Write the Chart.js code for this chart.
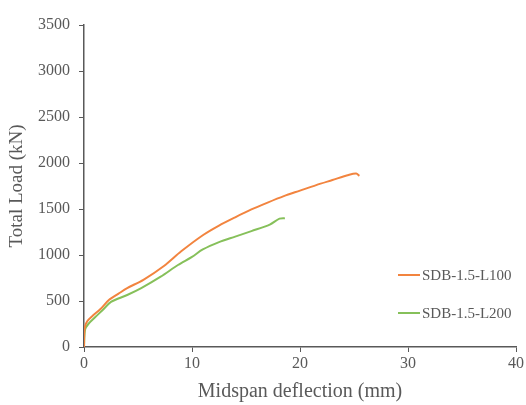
<!DOCTYPE html>
<html>
<head>
<meta charset="utf-8">
<script src="https://cdn.jsdelivr.net/npm/chart.js@4.4.1/dist/chart.umd.min.js"></script>
<style>
  html, body { margin: 0; padding: 0; background: #fff; }
  #wrap { width: 526px; height: 405px; }
</style>
</head>
<body>
<div id="wrap"><canvas id="loadChart" width="526" height="405"></canvas></div>
<script>
// deflection (mm) / total load (kN) for each specimen
const l100Deflection = [0, 0.05, 0.3, 0.8, 1.5, 2.3, 3.2, 4.0, 5.5, 7.4, 9.0, 11.0, 12.5, 14.0, 15.5, 17.0, 18.5, 20.0, 21.5, 23.0, 24.5, 25.2, 25.5];
const l100Load       = [0, 200, 280, 340, 410, 510, 580, 640, 730, 880, 1040, 1215, 1320, 1410, 1495, 1570, 1640, 1700, 1760, 1815, 1870, 1885, 1860];

const l200Deflection = [0, 0.1, 0.4, 1.0, 1.8, 2.5, 4.0, 5.3, 7.1, 8.7, 10.0, 11.0, 12.5, 14.0, 15.5, 17.2, 18.1, 18.6];
const l200Load       = [0, 190, 250, 320, 410, 490, 565, 640, 764, 891, 980, 1060, 1140, 1200, 1260, 1330, 1395, 1400];

const xTicks = [0, 10, 20, 30, 40];
const yTicks = [0, 500, 1000, 1500, 2000, 2500, 3000, 3500];

const seriesNames = ['SDB-1.5-L100', 'SDB-1.5-L200'];
const seriesColors = ['#F2843F', '#86C05A'];

const AXIS = '#595959';
const SERIF = '"Liberation Serif", "Times New Roman", serif';

function toPoints(xs, ys) {
    return xs.map((x, i) => ({ x: x, y: ys[i] }));
}

// legend drawn inside the plot, lower right
const innerLegend = {
    id: 'innerLegend',
    afterDraw(chart) {
        const ctx = chart.ctx;
        const rows = [275, 313];
        ctx.save();
        ctx.font = '15px ' + SERIF;
        ctx.textBaseline = 'middle';
        ctx.fillStyle = AXIS;
        chart.data.datasets.forEach((ds, i) => {
            const y = rows[i];
            ctx.strokeStyle = ds.borderColor;
            ctx.lineWidth = 2;
            ctx.beginPath();
            ctx.moveTo(398, y);
            ctx.lineTo(420, y);
            ctx.stroke();
            ctx.fillText(ds.label, 422, y + 1);
        });
        ctx.restore();
    }
};

new Chart(document.getElementById('loadChart').getContext('2d'), {
    type: 'scatter',
    data: {
        datasets: [
            {
                label: seriesNames[0],
                data: toPoints(l100Deflection, l100Load),
                borderColor: seriesColors[0],
                backgroundColor: seriesColors[0],
                borderWidth: 2,
                showLine: true,
                pointRadius: 0,
                tension: 0.3
            },
            {
                label: seriesNames[1],
                data: toPoints(l200Deflection, l200Load),
                borderColor: seriesColors[1],
                backgroundColor: seriesColors[1],
                borderWidth: 2,
                showLine: true,
                pointRadius: 0,
                tension: 0.3
            }
        ]
    },
    options: {
        responsive: false,
        animation: false,
        layout: { padding: { top: 25, right: 10, left: 0, bottom: 0 } },
        plugins: {
            legend: { display: false },
            tooltip: { enabled: false }
        },
        scales: {
            x: {
                type: 'linear',
                min: 0,
                max: 40,
                afterBuildTicks: (s) => { s.ticks = xTicks.map(v => ({ value: v })); },
                afterFit: (s) => { s.height = 58; },
                border: { display: true, color: AXIS, width: 1.5 },
                grid: { drawOnChartArea: false, drawTicks: true, tickLength: 5, color: AXIS },
                ticks: { color: AXIS, font: { family: SERIF, size: 16 }, padding: 2, maxRotation: 0, callback: (v) => String(v) },
                title: {
                    display: true,
                    text: 'Midspan deflection (mm)',
                    color: AXIS,
                    font: { family: SERIF, size: 20 },
                    padding: { top: 0, bottom: 1 }
                }
            },
            y: {
                type: 'linear',
                min: 0,
                max: 3500,
                afterBuildTicks: (s) => { s.ticks = yTicks.map(v => ({ value: v })); },
                afterFit: (s) => { s.width = 84; },
                border: { display: true, color: AXIS, width: 1.5 },
                grid: { drawOnChartArea: false, drawTicks: true, tickLength: 5, color: AXIS },
                ticks: { color: AXIS, font: { family: SERIF, size: 16 }, padding: 9, callback: (v) => String(v) },
                title: {
                    display: true,
                    text: 'Total Load (kN)',
                    color: AXIS,
                    font: { family: SERIF, size: 19 },
                    padding: { top: 6, bottom: 0 }
                }
            }
        }
    },
    plugins: [innerLegend]
});
</script>
</body>
</html>
